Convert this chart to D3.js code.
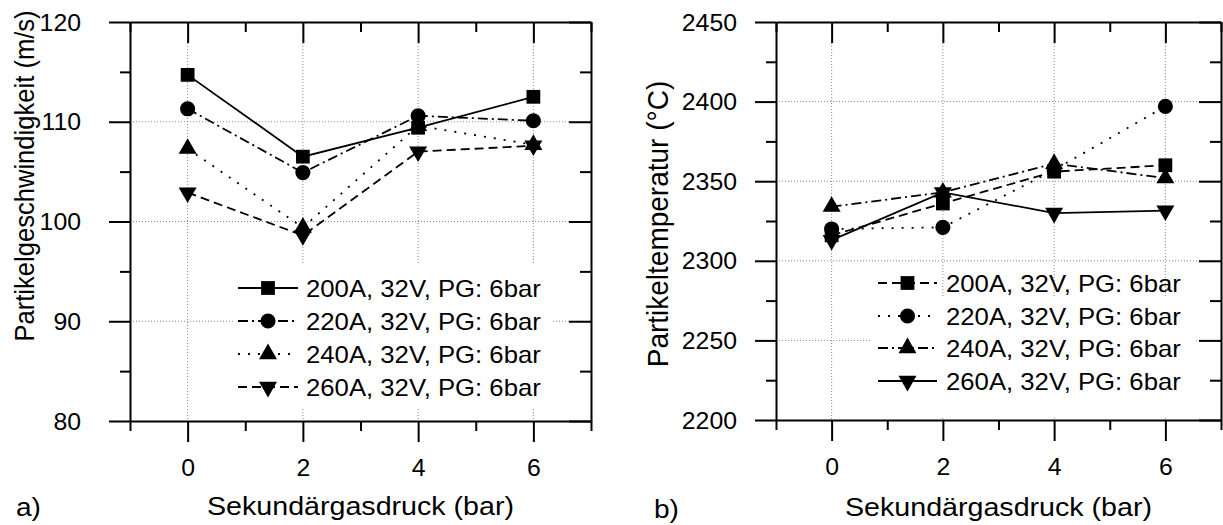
<!DOCTYPE html>
<html>
<head>
<meta charset="utf-8">
<script src="https://cdn.jsdelivr.net/npm/d3@7"></script>
<style>
  body { margin: 0; background: #fff; }
  svg { display: block; }
  text { font-family: "Liberation Sans", Arial, sans-serif; fill: #000; }
</style>
</head>
<body>
<svg id="chart" width="1223" height="525"></svg>
<script>
// ---- data ----
const pressure = [0, 2, 4, 6];
const seriesNames = ["200A, 32V, PG: 6bar", "220A, 32V, PG: 6bar", "240A, 32V, PG: 6bar", "260A, 32V, PG: 6bar"];

// particle velocity (m/s)
const velocity200A = [114.7, 106.5, 109.4, 112.5];
const velocity220A = [111.3, 104.9, 110.6, 110.1];
const velocity240A = [107.3, 99.4, 109.6, 107.7];
const velocity260A = [102.9, 98.6, 107.0, 107.6];

// particle temperature (°C)
const temperature200A = [2316, 2336, 2356, 2360];
const temperature220A = [2320, 2321, 2357, 2397];
const temperature240A = [2334, 2343, 2361, 2352];
const temperature260A = [2313, 2343, 2330, 2331.5];

const pressureTicks = [0, 2, 4, 6];
const pressureMinorTicks = [-1, 1, 3, 5, 7];
const velocityTicks = [80, 90, 100, 110, 120];
const velocityMinorTicks = [85, 95, 105, 115];
const temperatureTicks = [2200, 2250, 2300, 2350, 2400, 2450];
const temperatureMinorTicks = [2225, 2275, 2325, 2375, 2425];

// ---- styling ----
const SX = 1.08;                 // slight horizontal stretch of the lettering
const dash = {
  solid: null,
  dashed: "9,5",
  dotted: "2,8",
  dashdot: "10,4,2,4"
};
const markerShapes = ["square", "circle", "up", "down"];

const svg = d3.select("#chart");

function marker(sel, shape) {
  const gen = {
    square: d3.symbol().type(d3.symbolSquare).size(190),
    circle: d3.symbol().type(d3.symbolCircle).size(180),
    up: d3.symbol().type(d3.symbolTriangle).size(140),
    down: d3.symbol().type(d3.symbolTriangle).size(140)
  }[shape];
  return sel.append("path").attr("d", gen()).attr("fill", "#000")
    .attr("data-rot", shape === "down" ? 180 : 0);
}

function stretchedText(parent, x, y, str, size, anchor, rotate) {
  const g = parent.append("g")
    .attr("transform", `translate(${x},${y}) scale(${SX},1)` + (rotate ? ` rotate(${rotate})` : ""));
  return g.append("text").attr("text-anchor", anchor).style("font-size", size + "px").text(str);
}

function drawPanel(p) {
  const x = d3.scaleLinear().domain([-1, 7]).range([p.left, p.right]);
  const y = d3.scaleLinear().domain(p.yDomain).range([p.bottom, p.top]);
  const g = svg.append("g");

  // dotted grid
  const grid = g.append("g").attr("stroke", "#8a8a8a").attr("stroke-width", 1).attr("stroke-dasharray", "1,2");
  grid.selectAll(".gx").data(pressureTicks).join("line")
    .attr("x1", d => x(d)).attr("x2", d => x(d)).attr("y1", p.top).attr("y2", p.bottom);
  grid.selectAll(".gy").data(p.yTicks.slice(1, -1)).join("line")
    .attr("x1", p.left).attr("x2", p.right).attr("y1", d => y(d)).attr("y2", d => y(d));

  // legend backdrop
  g.append("rect").attr("x", p.legBox[0]).attr("y", p.legBox[1])
    .attr("width", p.legBox[2]).attr("height", p.legBox[3]).attr("fill", "#fff");

  // axes
  const styleAxis = a => a.attr("font-size", null).attr("font-family", null)
    .call(s => s.selectAll("line,path").attr("stroke-width", 2));
  const noDomain = a => a.select(".domain").remove();

  g.append("g").attr("transform", `translate(0,${p.bottom})`)
    .call(d3.axisBottom(x).tickValues(pressureMinorTicks).tickSize(10).tickSizeOuter(0).tickFormat(""))
    .call(noDomain).call(styleAxis);
  g.append("g").attr("transform", `translate(0,${p.top})`)
    .call(d3.axisTop(x).tickValues(pressureMinorTicks).tickSize(-10).tickSizeOuter(0).tickFormat(""))
    .call(noDomain).call(styleAxis);
  g.append("g").attr("transform", `translate(0,${p.top})`)
    .call(d3.axisTop(x).tickValues(pressureTicks).tickSize(-21).tickSizeOuter(0).tickFormat(""))
    .call(styleAxis);
  g.append("g").attr("transform", `translate(${p.right},0)`)
    .call(d3.axisRight(y).tickValues(p.yMinor).tickSize(-11).tickSizeOuter(0).tickFormat(""))
    .call(noDomain).call(styleAxis);
  g.append("g").attr("transform", `translate(${p.right},0)`)
    .call(d3.axisRight(y).tickValues(p.yTicks).tickSize(-22).tickSizeOuter(0).tickFormat(""))
    .call(styleAxis);
  g.append("g").attr("transform", `translate(${p.left},0)`)
    .call(d3.axisLeft(y).tickValues(p.yMinor).tickSize(10).tickSizeOuter(0).tickFormat(""))
    .call(noDomain).call(styleAxis);

  const bottomAxis = g.append("g").attr("transform", `translate(0,${p.bottom})`)
    .call(d3.axisBottom(x).tickValues(pressureTicks).tickSize(21).tickSizeOuter(0).tickPadding(18)
      .tickFormat(d3.format("d")))
    .call(styleAxis);
  bottomAxis.selectAll("text").style("font-size", "23px").attr("transform", `scale(${SX},1)`);

  const leftAxis = g.append("g").attr("transform", `translate(${p.left},0)`)
    .call(d3.axisLeft(y).tickValues(p.yTicks).tickSize(21).tickSizeOuter(0).tickPadding(p.yPad)
      .tickFormat(d3.format("d")))
    .call(styleAxis);
  leftAxis.selectAll("text").style("font-size", "23px")
    .attr("x", -(21 + p.yPad) / SX).attr("dy", "0.35em").attr("transform", `scale(${SX},1)`);

  // data lines and markers
  const line = d3.line().x((d, i) => x(pressure[i])).y(d => y(d));
  p.series.forEach((vals, i) => {
    g.append("path").datum(vals).attr("d", line)
      .attr("fill", "none").attr("stroke", "#000").attr("stroke-width", 1.8)
      .attr("stroke-dasharray", dash[p.styles[i]]);
  });
  p.series.forEach((vals, i) => {
    vals.forEach((v, j) => {
      const m = marker(g, markerShapes[i]);
      m.attr("transform", `translate(${x(pressure[j])},${y(v)}) rotate(${m.attr("data-rot")})`);
    });
  });

  // legend
  p.series.forEach((vals, i) => {
    const ry = p.legRows[i];
    g.append("line").attr("x1", p.legLine[0]).attr("x2", p.legLine[1]).attr("y1", ry).attr("y2", ry)
      .attr("stroke", "#000").attr("stroke-width", 1.8).attr("stroke-dasharray", dash[p.styles[i]]);
    const m = marker(g, markerShapes[i]);
    m.attr("transform", `translate(${(p.legLine[0] + p.legLine[1]) / 2},${ry}) rotate(${m.attr("data-rot")})`);
    stretchedText(g, p.legText, ry, seriesNames[i], 23.8, "start").attr("dy", "0.36em");
  });

  // titles
  stretchedText(g, (p.left + p.right) / 2, p.xTitleY, "Sekundärgasdruck (bar)", 26.5, "middle");
  stretchedText(g, p.yTitle[0], p.yTitle[1], p.yTitleText, p.yTitleSize, "middle", -90).attr("dy", "0.35em");
  stretchedText(g, p.tag[0], p.tag[1], p.tagText, 26, "start");
}

drawPanel({
  left: 130, right: 591, top: 22, bottom: 421,
  yDomain: [80, 120], yTicks: velocityTicks, yMinor: velocityMinorTicks, yPad: 28,
  series: [velocity200A, velocity220A, velocity240A, velocity260A],
  styles: ["solid", "dashdot", "dotted", "dashed"],
  legBox: [233, 265, 320, 143],
  legRows: [288, 321, 354, 387], legLine: [238, 298], legText: 306,
  xTitleY: 515,
  yTitle: [24, 176], yTitleText: "Partikelgeschwindigkeit (m/s)", yTitleSize: 25.6,
  tag: [16, 516], tagText: "a)"
});

drawPanel({
  left: 776, right: 1221, top: 22, bottom: 420,
  yDomain: [2200, 2450], yTicks: temperatureTicks, yMinor: temperatureMinorTicks, yPad: 18,
  series: [temperature200A, temperature220A, temperature240A, temperature260A],
  styles: ["dashed", "dotted", "dashdot", "solid"],
  legBox: [872, 297, 322, 120],
  legRows: [283, 316, 348, 381], legLine: [878, 937], legText: 946,
  xTitleY: 516,
  yTitle: [657, 224], yTitleText: "Partikeltemperatur (°C)", yTitleSize: 28,
  tag: [654, 518], tagText: "b)"
});
</script>
</body>
</html>
